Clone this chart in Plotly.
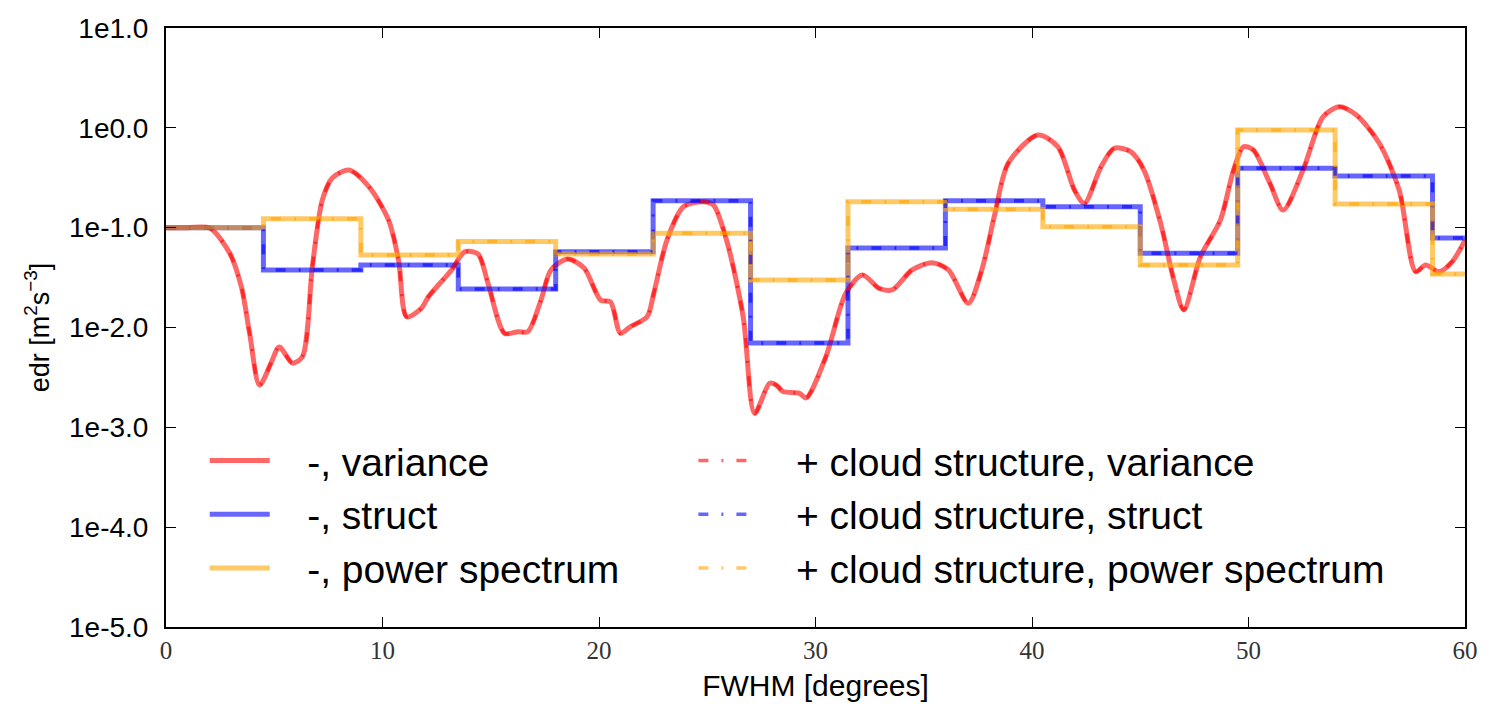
import plotly.graph_objects as go

# ---- data ----
red_x = [0, 1.0, 2.02, 2.94, 3.48, 3.86, 4.32, 4.85, 5.23, 5.84, 6.30, 6.76, 7.22, 7.68, 8.45, 9.37,
         10.28, 10.74, 11.12, 11.81, 12.12, 13.19, 13.80, 14.41, 14.87, 15.64, 16.25, 16.71, 17.32,
         17.78, 18.55, 19.31, 20.08, 20.53, 20.99, 21.45, 22.22, 22.53, 23.14, 23.90, 24.82, 25.28,
         25.89, 26.66, 27.19, 27.88, 28.19, 28.50, 29.26, 29.57, 30.48, 31.40, 32.17, 32.93, 33.54,
         34.46, 35.38, 36.14, 37.06, 37.68, 38.29, 38.90, 40.27, 41.19, 41.96, 42.42, 43.19, 43.80,
         44.56, 45.17, 45.94, 46.55, 47.01, 47.78, 48.70, 49.31, 49.77, 50.22, 50.99, 51.60, 52.52,
         53.44, 54.20, 54.97, 56.04, 56.96, 57.72, 58.18, 58.80, 59.41, 60.0]
variance = [0.1, 0.1, 0.099, 0.0557, 0.0256, 0.0088, 0.00265, 0.0044, 0.00638, 0.0044, 0.0051, 0.0406,
            0.189, 0.314, 0.378, 0.257, 0.119, 0.0474, 0.0128, 0.0157, 0.0203, 0.0377, 0.0574,
            0.0545, 0.0279, 0.00875, 0.00908, 0.00908, 0.0188, 0.0377, 0.0485, 0.0394, 0.0188,
            0.0181, 0.00875, 0.0102, 0.0128, 0.022, 0.0752, 0.162, 0.182, 0.169, 0.0752, 0.0128,
            0.00138, 0.00276, 0.00265, 0.00228, 0.00219, 0.00197, 0.0051, 0.022, 0.0336, 0.0247,
            0.0238, 0.0377, 0.0446, 0.0377, 0.0175, 0.0377, 0.139, 0.441, 0.848, 0.647, 0.238,
            0.175, 0.408, 0.624, 0.577, 0.378, 0.111, 0.0299, 0.015, 0.0512, 0.119, 0.378, 0.647,
            0.600, 0.278, 0.150, 0.378, 1.29, 1.63, 1.35, 0.70, 0.238, 0.0362, 0.0423, 0.0362,
            0.0456, 0.0752]

step_x = [0, 4.5, 9, 13.5, 18, 22.5, 27, 31.5, 36, 40.5, 45, 49.5, 54, 58.5, 60]
struct = [0.1, 0.0377, 0.0423, 0.0243, 0.0574, 0.186, 0.0070, 0.0625, 0.186, 0.162, 0.0553,
          0.393, 0.329, 0.079, 0.079]
power = [0.1, 0.123, 0.0532, 0.0725, 0.0545, 0.0877, 0.0299, 0.182, 0.153, 0.102, 0.0423,
         0.95, 0.173, 0.0344, 0.0344]

y_tickvals = [10, 1, 0.1, 0.01, 0.001, 0.0001, 0.00001]
y_ticktext = ["1e1.0", "1e0.0", "1e-1.0", "1e-2.0", "1e-3.0", "1e-4.0", "1e-5.0"]
x_tickvals = [0, 10, 20, 30, 40, 50, 60]

RED = "rgba(255,0,0,0.6)"
BLUE = "rgba(0,0,255,0.6)"
ORANGE = "rgba(255,165,0,0.6)"

PAD = "&nbsp;&nbsp;&nbsp;"

fig = go.Figure()

solid = [
    ("-, variance", red_x, variance, RED, "spline"),
    ("-, struct", step_x, struct, BLUE, "hv"),
    ("-, power spectrum", step_x, power, ORANGE, "hv"),
]
dashed = [
    ("+ cloud structure, variance", red_x, variance, RED, "spline"),
    ("+ cloud structure, struct", step_x, struct, BLUE, "hv"),
    ("+ cloud structure, power spectrum", step_x, power, ORANGE, "hv"),
]
for name, x, y, c, shp in solid:
    fig.add_trace(go.Scatter(x=x, y=y, mode="lines", name=PAD + name, legend="legend",
                             line=dict(color=c, width=5, shape=shp,
                                       smoothing=0.8 if shp == "spline" else None)))
for name, x, y, c, shp in dashed:
    fig.add_trace(go.Scatter(x=x, y=y, mode="lines", name=PAD + name, legend="legend2",
                             line=dict(color=c, width=3.5, shape=shp,
                                       dash="10px,13px,2px,13px",
                                       smoothing=0.8 if shp == "spline" else None)))

legend_font = dict(family="Liberation Sans, Arial, sans-serif", size=39, color="black")

fig.update_layout(
    width=1490, height=709,
    margin=dict(l=166, r=17, t=28, b=82),
    paper_bgcolor="white", plot_bgcolor="white",
    showlegend=True,
    legend=dict(x=0.0298, y=0.331, xanchor="left", yanchor="top", font=legend_font,
                bgcolor="rgba(0,0,0,0)", itemwidth=60, tracegroupgap=0),
    legend2=dict(x=0.406, y=0.331, xanchor="left", yanchor="top", font=legend_font,
                 bgcolor="rgba(0,0,0,0)", itemwidth=60, tracegroupgap=0),
    xaxis=dict(range=[0, 60], tickvals=x_tickvals, ticks="inside", ticklen=10,
               tickcolor="black", mirror="ticks", showline=True, linecolor="black",
               linewidth=2, showgrid=False, zeroline=False,
               tickfont=dict(family="Liberation Serif, serif", size=25, color="#333"),
               title=dict(text="FWHM [degrees]", standoff=12,
                          font=dict(family="Liberation Sans, Arial, sans-serif", size=30,
                                    color="black"))),
    yaxis=dict(type="log", range=[-5, 1], tickvals=y_tickvals, ticktext=y_ticktext,
               ticks="inside", ticklen=10, tickcolor="black", mirror="ticks",
               showline=True, linecolor="black", linewidth=2, showgrid=False,
               zeroline=False, ticklabelstandoff=10,
               tickfont=dict(family="Liberation Sans, Arial, sans-serif", size=28,
                             color="black"),
               title=dict(text="edr [m<sup>2</sup>s<sup>−3</sup>]", standoff=12,
                          font=dict(family="Liberation Sans, Arial, sans-serif", size=27,
                                    color="black"))),
)

fig.write_html("out.html")
